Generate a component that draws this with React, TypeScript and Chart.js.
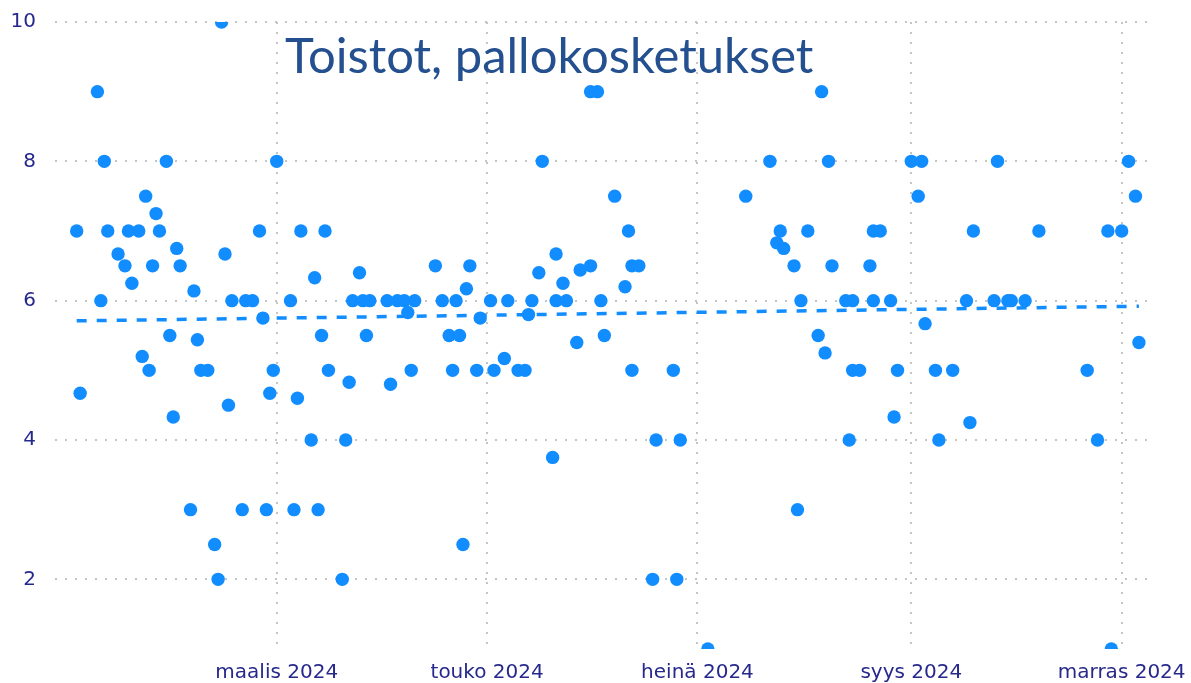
import React, { useEffect, useRef } from 'react';
import { Chart, registerables } from 'chart.js';

Chart.register(...registerables);

const dates = [
  '2024-01-03', '2024-01-04', '2024-01-09', '2024-01-10', '2024-01-11', '2024-01-12',
  '2024-01-15', '2024-01-17', '2024-01-18', '2024-01-19', '2024-01-21', '2024-01-22',
  '2024-01-23', '2024-01-24', '2024-01-25', '2024-01-26', '2024-01-27', '2024-01-29',
  '2024-01-30', '2024-01-31', '2024-02-01', '2024-02-02', '2024-02-05', '2024-02-06',
  '2024-02-07', '2024-02-08', '2024-02-10', '2024-02-12', '2024-02-13', '2024-02-14',
  '2024-02-15', '2024-02-16', '2024-02-17', '2024-02-20', '2024-02-21', '2024-02-23',
  '2024-02-25', '2024-02-26', '2024-02-27', '2024-02-28', '2024-02-29', '2024-03-01',
  '2024-03-05', '2024-03-06', '2024-03-07', '2024-03-08', '2024-03-11', '2024-03-12',
  '2024-03-13', '2024-03-14', '2024-03-15', '2024-03-16', '2024-03-20', '2024-03-21',
  '2024-03-22', '2024-03-23', '2024-03-25', '2024-03-26', '2024-03-27', '2024-03-28',
  '2024-04-02', '2024-04-03', '2024-04-05', '2024-04-07', '2024-04-08', '2024-04-09',
  '2024-04-10', '2024-04-16', '2024-04-18', '2024-04-20', '2024-04-21', '2024-04-22',
  '2024-04-23', '2024-04-24', '2024-04-25', '2024-04-26', '2024-04-28', '2024-04-29',
  '2024-05-02', '2024-05-03', '2024-05-06', '2024-05-07', '2024-05-10', '2024-05-12',
  '2024-05-13', '2024-05-14', '2024-05-16', '2024-05-17', '2024-05-20', '2024-05-21',
  '2024-05-21', '2024-05-23', '2024-05-24', '2024-05-27', '2024-05-28', '2024-05-31',
  '2024-05-31', '2024-06-02', '2024-06-03', '2024-06-04', '2024-06-07', '2024-06-10',
  '2024-06-11', '2024-06-12', '2024-06-12', '2024-06-14', '2024-06-18', '2024-06-19',
  '2024-06-24', '2024-06-25', '2024-06-26', '2024-07-04', '2024-07-15', '2024-07-22',
  '2024-07-24', '2024-07-25', '2024-07-26', '2024-07-29', '2024-07-30', '2024-07-31',
  '2024-08-02', '2024-08-05', '2024-08-06', '2024-08-07', '2024-08-08', '2024-08-09',
  '2024-08-13', '2024-08-14', '2024-08-15', '2024-08-15', '2024-08-17', '2024-08-20',
  '2024-08-21', '2024-08-21', '2024-08-23', '2024-08-26', '2024-08-27', '2024-08-28',
  '2024-09-01', '2024-09-03', '2024-09-04', '2024-09-05', '2024-09-08', '2024-09-09',
  '2024-09-13', '2024-09-17', '2024-09-18', '2024-09-19', '2024-09-25', '2024-09-26',
  '2024-09-29', '2024-09-30', '2024-10-04', '2024-10-08', '2024-10-22', '2024-10-25',
  '2024-10-28', '2024-10-29', '2024-11-01', '2024-11-03', '2024-11-05', '2024-11-06',
];

const values = [
  7, 4.67, 9, 6, 8, 7,
  6.67, 6.5, 7, 6.25, 7, 5.2,
  7.5, 5, 6.5, 7.25, 7, 8,
  5.5, 4.33, 6.75, 6.5, 3, 6.14,
  5.44, 5, 5, 2.5, 2, 10,
  6.67, 4.5, 6, 3, 6, 6,
  7, 5.75, 3, 4.67, 5, 8,
  6, 3, 4.6, 7, 4, 6.33,
  3, 5.5, 7, 5, 2, 4,
  4.83, 6, 6.4, 6, 5.5, 6,
  6, 4.8, 6, 6, 5.83, 5,
  6, 6.5, 6, 5.5, 5, 6,
  5.5, 2.5, 6.17, 6.5, 5, 5.75,
  6, 5, 5.17, 6, 5, 5,
  5.8, 6, 6.4, 8, 3.75, 6.67,
  6, 6.25, 6, 5.4, 6.44, 6.5,
  9, 9, 6, 5.5, 7.5, 6.2,
  7, 5, 6.5, 6.5, 2, 4,
  5, 2, 4, 1, 7.5, 8,
  6.83, 7, 6.75, 6.5, 3, 6,
  7, 5.5, 9, 5.25, 8, 6.5,
  6, 4, 6, 5, 5, 6.5,
  6, 7, 7, 6, 4.33, 5,
  8, 7.5, 8, 5.67, 5, 4,
  5, 6, 4.25, 7, 6, 8,
  6, 6, 6, 7, 5, 4,
  7, 1, 7, 8, 7.5, 5.4,
];

const trendDates = ['2024-01-03', '2024-11-06'];
const trendValues = [5.71, 5.92];

const xTickDates = ['2024-03-01', '2024-05-01', '2024-07-01', '2024-09-01', '2024-11-01'];
const xTickLabels = ['maalis 2024', 'touko 2024', 'heinä 2024', 'syys 2024', 'marras 2024'];
const xMin = '2023-12-27T17:00:00Z';
const xMax = '2024-11-10T02:00:00Z';

const yTicks = [2, 4, 6, 8, 10];
const yTickLabels = ['2', '4', '6', '8', '10'];
const yMin = 1;
const yMax = 10;

const titleText = 'Toistot, pallokosketukset';

const toMs = (s: string) => Date.parse(s.length === 10 ? s + 'T00:00:00Z' : s);

const POINT_COLOR = '#118DFF';
const LABEL_COLOR = '#26288c';
const GRID_COLOR = '#c4c4c4';

const zeroPadding = (scale: any) => {
  scale.paddingTop = 0;
  scale.paddingBottom = 0;
  scale.paddingLeft = 0;
  scale.paddingRight = 0;
};

export default function App() {
  const canvasRef = useRef<HTMLCanvasElement | null>(null);

  useEffect(() => {
    if (!canvasRef.current) return;
    const points = dates.map((d, i) => ({ x: toMs(d), y: values[i] }));
    const trend = trendDates.map((d, i) => ({ x: toMs(d), y: trendValues[i] }));
    const chart = new Chart(canvasRef.current, {
      type: 'scatter',
      data: {
        datasets: [
          {
            data: points,
            backgroundColor: POINT_COLOR,
            borderColor: POINT_COLOR,
            pointRadius: 6.7,
            pointHoverRadius: 6.7,
            pointBorderWidth: 0,
            showLine: false,
            clip: 0,
          },
          {
            data: trend,
            showLine: true,
            borderColor: POINT_COLOR,
            backgroundColor: POINT_COLOR,
            borderWidth: 3.5,
            borderDash: [10, 10],
            pointRadius: 0,
            pointHoverRadius: 0,
            fill: false,
            clip: 0,
          },
        ],
      },
      options: {
        animation: false,
        responsive: true,
        maintainAspectRatio: false,
        layout: { padding: { top: 22, right: 38, left: 0, bottom: 0 } },
        plugins: {
          legend: { display: false },
          tooltip: { enabled: false },
          title: { display: false },
        },
        scales: {
          x: {
            type: 'linear',
            min: toMs(xMin),
            max: toMs(xMax),
            afterBuildTicks: (scale: any) => {
              scale.ticks = xTickDates.map((d) => ({ value: toMs(d) }));
            },
            afterFit: (scale: any) => {
              scale.height = 34;
              zeroPadding(scale);
            },
            ticks: {
              autoSkip: false,
              maxRotation: 0,
              minRotation: 0,
              padding: 12,
              color: LABEL_COLOR,
              font: { family: 'DejaVu Sans', size: 20 },
              callback: (_v: any, i: number) => xTickLabels[i],
            },
            grid: { color: GRID_COLOR, lineWidth: 2, drawTicks: false },
            border: { display: false, dash: [2, 8] },
          },
          y: {
            type: 'linear',
            min: yMin,
            max: yMax,
            afterBuildTicks: (scale: any) => {
              scale.ticks = yTicks.map((v) => ({ value: v }));
            },
            afterFit: (scale: any) => {
              scale.width = 55;
              zeroPadding(scale);
            },
            ticks: {
              padding: 19,
              color: LABEL_COLOR,
              font: { family: 'DejaVu Sans', size: 20 },
              callback: (_v: any, i: number) => yTickLabels[i],
            },
            grid: { color: GRID_COLOR, lineWidth: 2, drawTicks: false },
            border: { display: false, dash: [2, 8] },
          },
        },
      },
    } as any);
    return () => chart.destroy();
  }, []);

  return (
    <div style={{ position: 'fixed', left: 0, top: 0, width: 1191, height: 683, background: '#fff' }}>
      <canvas ref={canvasRef} />
      <div
        style={{
          position: 'absolute',
          left: 285,
          top: 30,
          fontFamily: 'Lato, sans-serif',
          fontSize: 49,
          lineHeight: 1,
          color: '#24508f',
          whiteSpace: 'nowrap',
          pointerEvents: 'none',
        }}
      >
        {titleText}
      </div>
    </div>
  );
}
